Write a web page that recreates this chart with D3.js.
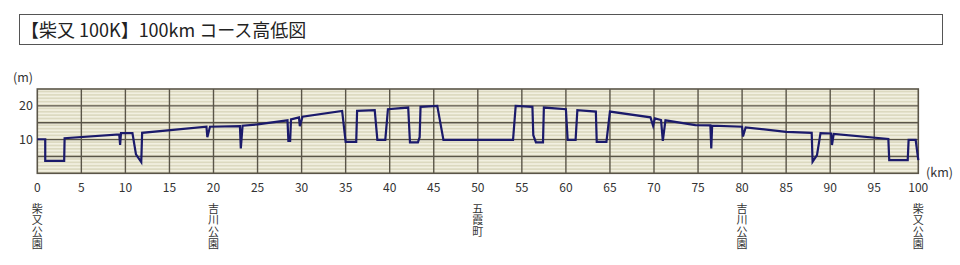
<!DOCTYPE html>
<html>
<head>
<meta charset="utf-8">
<script src="https://cdn.jsdelivr.net/npm/d3@7"></script>
<style>
  body { margin: 0; background: #fff; }
  text { font-family: "Noto Sans CJK JP", "Noto Sans", sans-serif; fill: #333; }
</style>
</head>
<body>
<div id="chart"></div>
<script>
var title = "【柴又 100K】100km コース高低図";

// course profile
var distKm = [0, 0.9, 0.9, 3.05, 3.1, 9.3, 9.4, 9.5, 10.8, 11.2, 11.8, 11.9,
  19.2, 19.3, 19.6, 23.0, 23.1, 23.3, 25.0, 28.4, 28.5, 28.7, 28.8, 29.7, 29.8, 30.1,
  34.6, 35.0, 36.2, 36.3, 38.3, 38.6, 39.5, 39.8, 42.1, 42.3, 43.2, 43.4, 43.5, 45.4,
  46.1, 54.0, 54.3, 56.2, 56.3, 56.6, 57.4, 57.5, 60.0, 60.2, 61.1, 61.3, 63.4, 63.5,
  64.6, 65.0, 69.6, 69.9, 70.1, 70.8, 71.0, 71.3, 74.7, 76.4, 76.5, 76.6, 80.0, 80.1,
  80.4, 85.0, 87.9, 88.0, 88.5, 88.9, 90.1, 90.2, 90.4, 96.6, 96.7, 98.8, 98.9, 99.7, 100];
var elevM = [10.1, 10.1, 3.7, 3.7, 10.4, 11.5, 8.4, 11.9, 11.9, 5.6, 3.3, 12.0,
  13.8, 10.7, 13.8, 14.0, 7.4, 14.1, 14.5, 15.7, 9.6, 9.6, 16.0, 16.6, 14.0, 16.8,
  18.5, 9.3, 9.3, 18.5, 18.7, 9.9, 9.9, 19.0, 19.5, 9.2, 9.2, 10.7, 19.7, 20.0,
  9.9, 9.9, 20.0, 19.7, 11.3, 9.2, 9.2, 19.5, 19.0, 9.9, 9.9, 18.7, 18.3, 9.3,
  9.3, 18.3, 16.6, 14.1, 16.3, 15.8, 9.6, 15.7, 14.3, 14.2, 7.4, 14.1, 13.8, 10.9,
  13.6, 12.3, 12.0, 3.4, 5.4, 11.9, 11.8, 8.4, 11.7, 10.2, 3.9, 3.9, 9.9, 9.9, 3.9];

var xTicks = d3.range(0, 101, 5);
var yTicks = [10, 20];
var places = [
  {km: 0, name: "柴又公園"},
  {km: 20, name: "吉川公園"},
  {km: 50, name: "五霞町"},
  {km: 80, name: "吉川公園"},
  {km: 100, name: "柴又公園"}
];

var W = 960, H = 265;
var plot = {left: 37.3, right: 918.3, top: 89, bottom: 173.3};

var svg = d3.select("#chart").append("svg")
  .attr("width", W).attr("height", H);

// title box
svg.append("rect")
  .attr("x", 19.5).attr("y", 14.5)
  .attr("width", 923).attr("height", 30)
  .attr("fill", "#fff").attr("stroke", "#555").attr("stroke-width", 1);
svg.append("text")
  .attr("x", 21).attr("y", 36.5)
  .style("font-size", "18px")
  .style("fill", "#222")
  .text(title);

var x = d3.scaleLinear().domain([0, 100]).range([plot.left, plot.right]);
var y = d3.scaleLinear().domain([0, 25]).range([plot.bottom, plot.top]);

var g = svg.append("g");

// background and fine stripes
g.append("rect")
  .attr("x", plot.left).attr("y", plot.top)
  .attr("width", plot.right - plot.left).attr("height", plot.bottom - plot.top)
  .attr("fill", "#dcd9c0");
g.selectAll("rect.stripe")
  .data(d3.range(0, 25, 0.5).filter(function (v) { return v % 1 !== 0; }))
  .enter().append("rect")
  .attr("class", "stripe")
  .attr("x", plot.left)
  .attr("width", plot.right - plot.left)
  .attr("y", function (d) { return y(d + 0.5); })
  .attr("height", function (d) { return y(d) - y(d + 0.5); })
  .attr("fill", "#f2f0e1");

// grid
var gridColor = "#5a5548";
g.selectAll("line.hgrid")
  .data(d3.range(5, 25, 5))
  .enter().append("line")
  .attr("x1", plot.left).attr("x2", plot.right)
  .attr("y1", function (d) { return y(d); })
  .attr("y2", function (d) { return y(d); })
  .attr("stroke", gridColor).attr("stroke-width", 1.4);
g.selectAll("line.vgrid")
  .data(xTicks.slice(1, -1))
  .enter().append("line")
  .attr("y1", plot.top).attr("y2", plot.bottom)
  .attr("x1", function (d) { return x(d); })
  .attr("x2", function (d) { return x(d); })
  .attr("stroke", gridColor).attr("stroke-width", 1.4);
g.append("rect")
  .attr("x", plot.left).attr("y", plot.top)
  .attr("width", plot.right - plot.left).attr("height", plot.bottom - plot.top)
  .attr("fill", "none").attr("stroke", gridColor).attr("stroke-width", 1.6);

// elevation line
var pts = distKm.map(function (d, i) { return [d, elevM[i]]; });
var line = d3.line()
  .x(function (d) { return x(d[0]); })
  .y(function (d) { return y(d[1]); });
g.append("path")
  .attr("d", line(pts))
  .attr("fill", "none")
  .attr("stroke", "#1b1a6b")
  .attr("stroke-width", 2.2)
  .attr("stroke-linejoin", "miter");

// axis labels
svg.selectAll("text.ytick")
  .data(yTicks)
  .enter().append("text")
  .attr("class", "ytick")
  .attr("x", 33).attr("y", function (d) { return y(d) + 4.5; })
  .attr("text-anchor", "end")
  .style("font-size", "12.5px")
  .text(function (d) { return d; });
svg.append("text")
  .attr("x", 13).attr("y", 82)
  .style("font-size", "12.5px")
  .text("(m)");

svg.selectAll("text.xtick")
  .data(xTicks)
  .enter().append("text")
  .attr("class", "xtick")
  .attr("x", function (d) { return x(d); })
  .attr("y", 192)
  .attr("text-anchor", "middle")
  .style("font-size", "12px")
  .text(function (d) { return d; });
svg.append("text")
  .attr("x", 926).attr("y", 177)
  .style("font-size", "12.5px")
  .text("(km)");

// place names, written vertically
svg.selectAll("text.place")
  .data(places)
  .enter().append("text")
  .attr("class", "place")
  .attr("x", function (d) { return x(d.km); })
  .attr("y", 203)
  .style("writing-mode", "vertical-rl")
  .style("font-size", "11px")
  .style("letter-spacing", "0.7px")
  .text(function (d) { return d.name; });
</script>
</body>
</html>
